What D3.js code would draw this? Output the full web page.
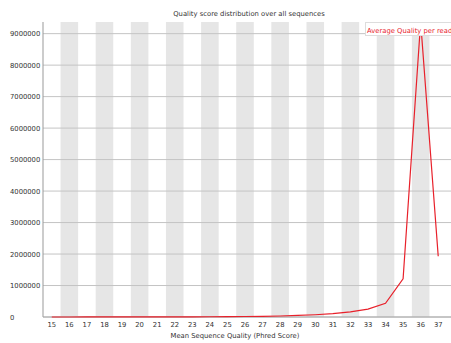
<!DOCTYPE html>
<html>
<head>
<meta charset="utf-8">
<script src="https://cdn.jsdelivr.net/npm/d3@7"></script>
<style>
  body { margin: 0; background: #fff; }
  svg { display: block; font-family: "DejaVu Sans", sans-serif; }
</style>
</head>
<body>
<div id="chart"></div>
<script>
// data
var qualities = [15, 16, 17, 18, 19, 20, 21, 22, 23, 24, 25, 26, 27, 28, 29, 30, 31, 32, 33, 34, 35, 36, 37];
var counts = [600, 700, 900, 1200, 1600, 2200, 3000, 4200, 5800, 8000, 11000, 15500, 22000, 31000,
              50000, 72000, 105000, 165000, 250000, 435000, 1210000, 9370000, 1930000];
var yTicks = [0, 1000000, 2000000, 3000000, 4000000, 5000000, 6000000, 7000000, 8000000, 9000000];
var seriesName = "Average Quality per read";
var title = "Quality score distribution over all sequences";
var xLabel = "Mean Sequence Quality (Phred Score)";

// size and margin
var width = 451;
var height = 343;
var margin = {top: 22, right: 4, bottom: 26, left: 43};
var plotBottom = height - margin.bottom;

var line_color = "#e8212b";
var band_color = "#e6e6e6";
var grid_color = "#c4c4c4";
var text_color = "#333";

var svg = d3.select("#chart")
            .append("svg")
            .attr("width", width)
            .attr("height", height);

var xScale = d3.scaleBand()
               .domain(qualities)
               .range([margin.left, width - margin.right]);
var yScale = d3.scaleLinear()
               .domain([0, d3.max(counts)])
               .range([plotBottom, margin.top]);

// grey bands on even qualities
svg.selectAll(".band")
   .data(qualities.filter(function(q) { return q % 2 === 0; }))
   .enter().append("rect")
   .attr("class", "band")
   .attr("x", function(d) { return xScale(d); })
   .attr("y", margin.top)
   .attr("width", xScale.bandwidth())
   .attr("height", plotBottom - margin.top)
   .attr("fill", band_color);

// horizontal grid lines
svg.selectAll(".grid")
   .data(yTicks)
   .enter().append("line")
   .attr("class", "grid")
   .attr("x1", margin.left)
   .attr("x2", width)
   .attr("y1", function(d) { return yScale(d); })
   .attr("y2", function(d) { return yScale(d); })
   .attr("stroke", grid_color)
   .attr("stroke-width", 1);

// y axis
var yAxis = svg.append("g")
   .attr("transform", "translate(" + margin.left + ",0)")
   .call(d3.axisLeft(yScale).tickValues(yTicks).tickSize(0).tickFormat(d3.format("d")));
yAxis.select(".domain").remove();
yAxis.selectAll("text")
     .attr("x", -33)
     .attr("text-anchor", "start")
     .attr("fill", text_color)
     .style("font-size", "6.8px")
     .style("font-family", "DejaVu Sans, sans-serif");
svg.append("line")
   .attr("x1", margin.left)
   .attr("x2", margin.left)
   .attr("y1", margin.top)
   .attr("y2", plotBottom)
   .attr("stroke", "#999")
   .attr("stroke-width", 1);

// x axis
var xAxis = svg.append("g")
   .attr("transform", "translate(0," + plotBottom + ")")
   .call(d3.axisBottom(xScale).tickSize(0).tickPadding(5));
xAxis.select(".domain").remove();
xAxis.selectAll("text")
     .attr("fill", text_color)
     .style("font-size", "6.8px")
     .style("font-family", "DejaVu Sans, sans-serif");
svg.append("line")
   .attr("x1", margin.left)
   .attr("x2", width)
   .attr("y1", plotBottom)
   .attr("y2", plotBottom)
   .attr("stroke", "#aaa")
   .attr("stroke-width", 1);

// the line
var line = d3.line()
             .x(function(d, i) { return xScale(qualities[i]) + xScale.bandwidth() / 2; })
             .y(function(d) { return yScale(d); });
svg.append("path")
   .datum(counts)
   .attr("fill", "none")
   .attr("stroke", line_color)
   .attr("stroke-width", 1.2)
   .attr("d", line);

// title and x label
svg.append("text")
   .text(title)
   .attr("x", 249)
   .attr("y", 16)
   .attr("text-anchor", "middle")
   .attr("fill", text_color)
   .style("font-size", "6.8px");
svg.append("text")
   .text(xLabel)
   .attr("x", 235)
   .attr("y", 337.5)
   .attr("text-anchor", "middle")
   .attr("fill", text_color)
   .style("font-size", "6.8px");

// legend
svg.append("rect")
   .attr("x", 365.5)
   .attr("y", 22.5)
   .attr("width", 100)
   .attr("height", 13)
   .attr("fill", "#fff")
   .attr("stroke", "#ddd");
svg.append("text")
   .text(seriesName)
   .attr("x", 367)
   .attr("y", 32.5)
   .attr("fill", line_color)
   .style("font-size", "6.8px");
</script>
</body>
</html>
